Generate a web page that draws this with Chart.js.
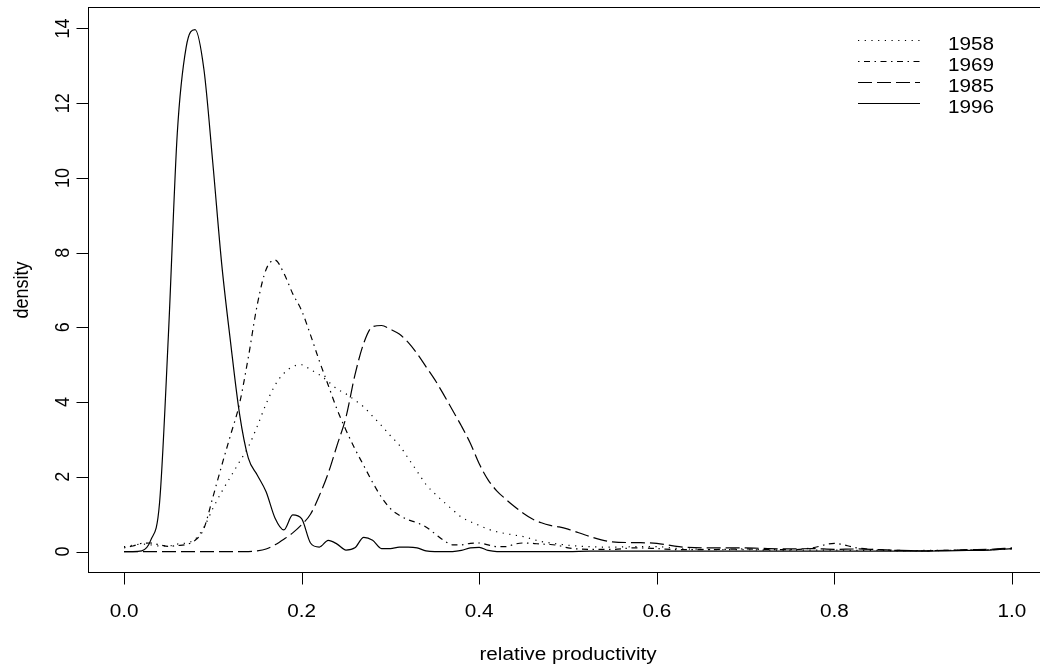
<!DOCTYPE html>
<html>
<head>
<meta charset="utf-8">
<script src="https://cdn.jsdelivr.net/npm/chart.js@4.4.0/dist/chart.umd.min.js"></script>
<style>
html, body { margin: 0; padding: 0; background: #fff; overflow: hidden; }
#wrap { width: 1060px; height: 668px; }
</style>
</head>
<body>
<div id="wrap"><canvas id="density" width="1060" height="668"></canvas></div>
<script>
// relative productivity grid
var xs = [0, 0.01, 0.02, 0.03, 0.04, 0.05, 0.06, 0.07, 0.08, 0.09,
  0.10, 0.11, 0.12, 0.13, 0.14, 0.15, 0.16, 0.17, 0.18, 0.19,
  0.20, 0.21, 0.22, 0.23, 0.24, 0.25, 0.26, 0.27, 0.28, 0.29,
  0.30, 0.31, 0.32, 0.33, 0.34, 0.35, 0.36, 0.37, 0.38, 0.39,
  0.40, 0.41, 0.42, 0.43, 0.44, 0.45, 0.46, 0.47, 0.48, 0.49,
  0.50, 0.525, 0.55, 0.575, 0.60, 0.625, 0.65, 0.675, 0.70, 0.725,
  0.75, 0.775, 0.80, 0.825, 0.85, 0.875, 0.90, 0.925, 0.95, 0.975, 1.0];

var d1958 = [0.13, 0.17, 0.2, 0.18, 0.15, 0.15, 0.2, 0.23, 0.33, 0.65,
  1.15, 1.6, 2.0, 2.4, 2.8, 3.35, 3.95, 4.45, 4.77, 4.95,
  5.0, 4.87, 4.73, 4.55, 4.35, 4.22, 4.05, 3.87, 3.62, 3.37,
  3.1, 2.85, 2.5, 2.15, 1.8, 1.55, 1.33, 1.12, 0.92, 0.8,
  0.7, 0.6, 0.53, 0.48, 0.44, 0.4, 0.33, 0.27, 0.23, 0.2,
  0.17, 0.13, 0.12, 0.13, 0.13, 0.08, 0.06, 0.05, 0.05, 0.04,
  0.04, 0.04, 0.04, 0.03, 0.03, 0.02, 0.03, 0.03, 0.04, 0.05, 0.07];

var d1969 = [0.1, 0.15, 0.22, 0.23, 0.18, 0.14, 0.16, 0.19, 0.3, 0.62,
  1.45, 2.3, 3.12, 3.95, 5.2, 6.6, 7.55, 7.8, 7.45, 6.9,
  6.45, 5.8, 5.1, 4.45, 3.8, 3.25, 2.75, 2.3, 1.85, 1.45,
  1.15, 0.97, 0.85, 0.77, 0.66, 0.48, 0.3, 0.18, 0.18, 0.22,
  0.23, 0.18, 0.13, 0.13, 0.2, 0.23, 0.22, 0.2, 0.19, 0.16,
  0.1, 0.06, 0.06, 0.1, 0.08, 0.05, 0.05, 0.06, 0.07, 0.05,
  0.05, 0.1, 0.22, 0.1, 0.05, 0.03, 0.02, 0.03, 0.04, 0.05, 0.08];

var d1985 = [0, 0, 0, 0, 0, 0, 0, 0, 0, 0,
  0, 0, 0, 0, 0, 0.02, 0.07, 0.18, 0.33, 0.5,
  0.72, 1.0, 1.5, 2.1, 2.85, 3.6, 4.72, 5.58, 6.02, 6.05,
  5.95, 5.82, 5.6, 5.3, 4.95, 4.6, 4.2, 3.78, 3.36, 2.9,
  2.35, 1.92, 1.62, 1.4, 1.2, 1.02, 0.87, 0.77, 0.7, 0.66,
  0.6, 0.4, 0.26, 0.24, 0.22, 0.13, 0.1, 0.1, 0.1, 0.08,
  0.07, 0.08, 0.06, 0.07, 0.05, 0.03, 0.02, 0.03, 0.05, 0.06, 0.1];

var d1996 = [0, 0, 0.02, 0.3, 1.3, 5.8, 11.2, 13.5, 13.97, 12.9,
  10.4, 7.7, 5.6, 3.7, 2.5, 2.05, 1.6, 0.9, 0.58, 0.98,
  0.88, 0.23, 0.12, 0.3, 0.2, 0.04, 0.1, 0.38, 0.3, 0.08,
  0.08, 0.12, 0.12, 0.1, 0.02, 0, 0, 0, 0.03, 0.1,
  0.11, 0.03, 0, 0, 0, 0, 0, 0, 0, 0,
  0, 0.01, 0.01, 0.01, 0.01, 0.01, 0.01, 0.01, 0.01, 0.01,
  0.01, 0.01, 0.01, 0.01, 0.01, 0.01, 0.01, 0.02, 0.03, 0.04, 0.08];

var years = ['1958', '1969', '1985', '1996'];
var xTicks = [0, 0.2, 0.4, 0.6, 0.8, 1.0];
var xTickLabels = ['0.0', '0.2', '0.4', '0.6', '0.8', '1.0'];
var yTicks = [0, 2, 4, 6, 8, 10, 12, 14];

var FONT = '18px "Liberation Sans", Arial, sans-serif';
var STRETCH = 1.15;

function pts(vals) {
  return xs.map(function (x, i) { return { x: x, y: vals[i] }; });
}

function line(label, vals, dash) {
  return {
    label: label,
    data: pts(vals),
    borderColor: '#000',
    borderWidth: 1.2,
    borderDash: dash,
    pointRadius: 0,
    fill: false,
    cubicInterpolationMode: 'monotone'
  };
}

function text(ctx, s, x, y, rotate, dy) {
  ctx.save();
  ctx.translate(x, y);
  ctx.scale(STRETCH, 1);
  if (rotate) ctx.rotate(-Math.PI / 2);
  ctx.textAlign = 'center';
  ctx.textBaseline = 'alphabetic';
  ctx.fillText(s, 0, dy || 0);
  ctx.restore();
}

// R style box, axes, labels and legend
var rAxes = {
  id: 'rAxes',
  afterDraw: function (chart) {
    var ctx = chart.ctx, a = chart.chartArea;
    var sx = chart.scales.x, sy = chart.scales.y;
    ctx.save();
    ctx.strokeStyle = '#000';
    ctx.fillStyle = '#000';
    ctx.lineWidth = 1;
    ctx.setLineDash([]);
    ctx.strokeRect(a.left, a.top, a.right - a.left, a.bottom - a.top);

    ctx.font = FONT;
    // x axis
    ctx.beginPath();
    ctx.moveTo(Math.round(sx.getPixelForValue(xTicks[0])) + 0.5, a.bottom);
    ctx.lineTo(Math.round(sx.getPixelForValue(xTicks[xTicks.length - 1])) + 0.5, a.bottom);
    xTicks.forEach(function (v) {
      var px = Math.round(sx.getPixelForValue(v)) + 0.5;
      ctx.moveTo(px, a.bottom);
      ctx.lineTo(px, a.bottom + 12);
    });
    ctx.stroke();
    xTicks.forEach(function (v, i) {
      text(ctx, xTickLabels[i], sx.getPixelForValue(v), 617, false);
    });

    // y axis
    ctx.beginPath();
    ctx.moveTo(a.left, Math.round(sy.getPixelForValue(yTicks[0])) + 0.5);
    ctx.lineTo(a.left, Math.round(sy.getPixelForValue(yTicks[yTicks.length - 1])) + 0.5);
    yTicks.forEach(function (v) {
      var py = Math.round(sy.getPixelForValue(v)) + 0.5;
      ctx.moveTo(a.left, py);
      ctx.lineTo(a.left - 12, py);
    });
    ctx.stroke();
    yTicks.forEach(function (v) {
      text(ctx, String(v), 62, sy.getPixelForValue(v), true, 6.5);
    });

    // axis titles
    text(ctx, 'relative productivity', (a.left + a.right) / 2, 660, false);
    text(ctx, 'density', 23, (a.top + a.bottom) / 2, true, 4.7);

    // legend
    chart.data.datasets.forEach(function (ds, i) {
      var ly = 40.5 + 21 * i;
      ctx.save();
      ctx.lineWidth = ds.borderWidth;
      ctx.setLineDash(ds.borderDash);
      ctx.beginPath();
      ctx.moveTo(858, ly);
      ctx.lineTo(920, ly);
      ctx.stroke();
      ctx.restore();
      ctx.save();
      ctx.translate(948, ly + 9);
      ctx.scale(STRETCH, 1);
      ctx.textAlign = 'left';
      ctx.fillText(ds.label, 0, 0);
      ctx.restore();
    });
    ctx.restore();
  }
};

var chart = new Chart(document.getElementById('density').getContext('2d'), {
  type: 'line',
  data: {
    datasets: [
      line(years[0], d1958, [1.2, 5.5]),
      line(years[1], d1969, [1.5, 4.5, 6, 4.5]),
      line(years[2], d1985, [14, 5]),
      line(years[3], d1996, [])
    ]
  },
  options: {
    responsive: false,
    animation: false,
    devicePixelRatio: 1,
    layout: { padding: { left: 88.5, top: 7.5, right: 12.5, bottom: 95.5 } },
    plugins: { legend: { display: false }, tooltip: { enabled: false } },
    scales: {
      x: { type: 'linear', min: -0.04, max: 1.04, display: false },
      y: { type: 'linear', min: -0.56, max: 14.56, display: false }
    }
  },
  plugins: [rAxes]
});
</script>
</body>
</html>
